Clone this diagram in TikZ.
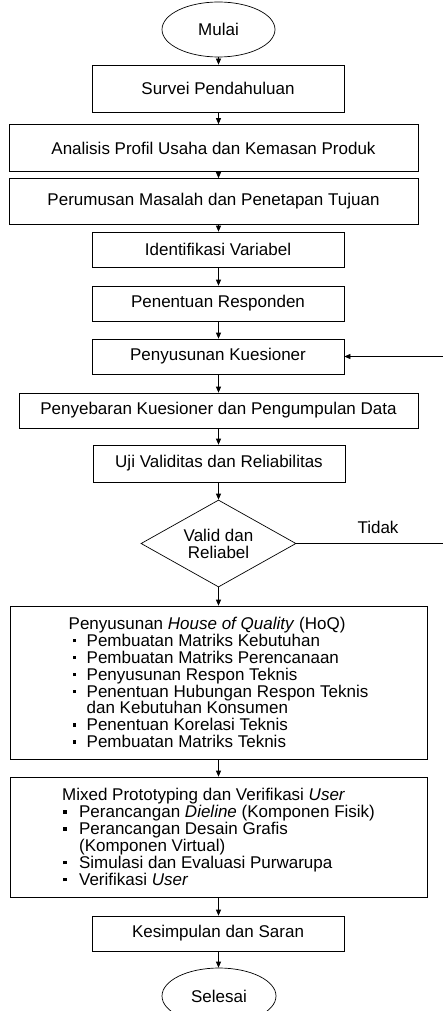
\documentclass[tikz,border=0pt]{standalone}
\usepackage{fontspec}
\setmainfont{Liberation Sans}
\usetikzlibrary{shapes.geometric,arrows.meta}

\newcommand{\sqbul}{\raisebox{4pt}{\rule{3.5pt}{3.5pt}}}

\begin{document}
\begin{tikzpicture}[x=1pt, y=-1pt, line width=0.7pt,
    every node/.style={font=\fontsize{17}{16.9}\selectfont},
    proc/.style={draw, rectangle, inner sep=0pt, align=center},
    term/.style={draw, ellipse, inner sep=0pt, minimum width=113pt, minimum height=55pt},
    arrow/.style={-{Triangle[length=6pt,width=5pt]}}]
    \useasboundingbox (0,0) rectangle (442,1011);

    % start / steps
    \node[term] (mulai) at (218.5,29.5) {Mulai};
    \node[proc, minimum width=252pt, minimum height=47pt] (survei) at (218,88.5) {Survei Pendahuluan};
    \node[proc, minimum width=409pt, minimum height=47pt] (analisis) at (213.5,148) {Analisis Profil Usaha dan Kemasan Produk};
    \node[proc, minimum width=409pt, minimum height=46pt] (perumusan) at (213.5,201.5) {Perumusan Masalah dan Penetapan Tujuan};
    \node[proc, minimum width=252pt, minimum height=35pt] (identifikasi) at (218,249.5) {Identifikasi Variabel};
    \node[proc, minimum width=252pt, minimum height=35pt] (penentuan) at (218,303.5) {Penentuan Responden};
    \node[proc, minimum width=252pt, minimum height=35pt] (penyusunan) at (218,356.5) {Penyusunan Kuesioner};
    \node[proc, minimum width=399pt, minimum height=35pt] (penyebaran) at (218.5,410.5) {Penyebaran Kuesioner dan Pengumpulan Data};
    \node[proc, minimum width=252pt, minimum height=37pt] (uji) at (219,463.5) {Uji Validitas dan Reliabilitas};

    % decision
    \node[draw, diamond, aspect=1.78, inner sep=0pt, minimum width=155pt, minimum height=87pt, align=center] (valid) at (218.5,543.5) {Valid dan\\Reliabel};
    \node (tidak) at (378,527) {Tidak};

    % HoQ
    \node[proc, align=left, minimum width=417pt, minimum height=153pt] (hoq) at (218.5,682.5) {%
      Penyusunan \textit{House of Quality} (HoQ)\\
      \hspace*{4pt}\makebox[14pt][l]{\sqbul}Pembuatan Matriks Kebutuhan\\
      \hspace*{4pt}\makebox[14pt][l]{\sqbul}Pembuatan Matriks Perencanaan\\
      \hspace*{4pt}\makebox[14pt][l]{\sqbul}Penyusunan Respon Teknis\\
      \hspace*{4pt}\makebox[14pt][l]{\sqbul}Penentuan Hubungan Respon Teknis\\
      \hspace*{18pt}dan Kebutuhan Konsumen\\
      \hspace*{4pt}\makebox[14pt][l]{\sqbul}Penentuan Korelasi Teknis\\
      \hspace*{4pt}\makebox[14pt][l]{\sqbul}Pembuatan Matriks Teknis};

    % prototyping
    \node[proc, align=left, minimum width=417pt, minimum height=120pt] (mixed) at (218.5,837) {%
      Mixed Prototyping dan Verifikasi \textit{User}\\
      \hspace*{1pt}\makebox[16pt][l]{\sqbul}Perancangan \textit{Dieline} (Komponen Fisik)\\
      \hspace*{1pt}\makebox[16pt][l]{\sqbul}Perancangan Desain Grafis\\
      \hspace*{17pt}(Komponen Virtual)\\
      \hspace*{1pt}\makebox[16pt][l]{\sqbul}Simulasi dan Evaluasi Purwarupa\\
      \hspace*{1pt}\makebox[16pt][l]{\sqbul}Verifikasi \textit{User}};

    % end
    \node[proc, minimum width=252pt, minimum height=35pt] (kesimpulan) at (218,933.5) {Kesimpulan dan Saran};
    \node[term, minimum width=114pt, minimum height=56pt] (selesai) at (219,996) {Selesai};

    % flow
    \foreach \a/\b in {mulai/survei, survei/analisis, analisis/perumusan, perumusan/identifikasi,
      identifikasi/penentuan, penentuan/penyusunan, penyusunan/penyebaran, penyebaran/uji,
      uji/valid, valid/hoq, hoq/mixed, mixed/kesimpulan, kesimpulan/selesai}
      \draw[arrow] (\a.south -| mulai) -- (\b.north -| mulai);

    % loop back
    \draw[arrow] (valid.east) -- ++(148,0) |- (penyusunan.east);
  \end{tikzpicture}
\end{document}
